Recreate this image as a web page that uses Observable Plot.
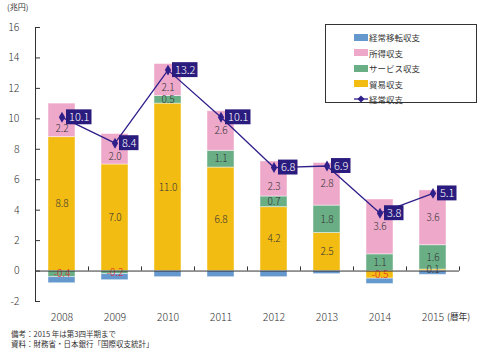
<!DOCTYPE html>
<html><head><meta charset="utf-8">
<script src="https://cdn.jsdelivr.net/npm/d3@7"></script>
<script src="https://cdn.jsdelivr.net/npm/@observablehq/plot@0.6"></script>
<style>
body{margin:0;background:#fff;}
#wrap{position:relative;width:482px;height:351px;font-family:"Noto Sans CJK JP","Noto Sans",sans-serif;color:#333;overflow:hidden;}
#wrap > svg{display:block;position:absolute;left:0;top:0;font-weight:300;}
.abs{position:absolute;white-space:nowrap;line-height:1;}
#legend{position:absolute;left:325px;top:24px;width:152px;height:79px;border:1px solid #333;box-sizing:border-box;background:#fff;}
.li{position:absolute;left:28px;font-size:8.5px;line-height:10px;height:10px;white-space:nowrap;}
.sw{position:absolute;left:0;top:1.5px;width:14px;height:7px;}
.lt{position:absolute;left:15px;top:0;white-space:nowrap;}
</style></head><body><div id="wrap"></div>
<script>
const years = ["2008","2009","2010","2011","2012","2013","2014","2015"];
const seriesNames = ["貿易収支","サービス収支","所得収支","経常移転収支"];
const trade     = [8.8, 7.0, 11.0, 6.8, 4.2, 2.5, -0.5, 0.1];
const services  = [-0.4, -0.2, 0.5, 1.1, 0.7, 1.8, 1.1, 1.6];
const income    = [2.2, 2.0, 2.1, 2.6, 2.3, 2.8, 3.6, 3.6];
const transfers = [-0.4, -0.4, -0.4, -0.4, -0.4, -0.2, -0.35, -0.25];
const current   = [10.1, 8.4, 13.2, 10.1, 6.8, 6.9, 3.8, 5.1];
const yTicks = [-2, 0, 2, 4, 6, 8, 10, 12, 14, 16];
const colors = ["#f2bc12", "#6aae85", "#eea8ca", "#6598cc"];
const lineColor = "#2e1f8a";
const boxColor = "#2a1b7e";

const seriesValues = [trade, services, income, transfers];
const TR = "経常移転収支", INC = "所得収支";
const rows = [];
years.forEach((yr, i) => seriesNames.forEach((s, k) => {
  // does this segment's label collide with the current-account label box?
  let clash = false;
  if (s === INC) {
    const base = Math.max(0, trade[i]) + Math.max(0, services[i]);
    clash = Math.abs(base + income[i] / 2 - current[i]) < 0.8;
  }
  rows.push({year: yr, series: s, value: seriesValues[k][i], clash});
}));
const cur = years.map((yr, i) => ({year: yr, value: current[i], label: current[i].toFixed(1)}));
const cur4 = cur.filter(d => d.label.length >= 4);
const cur3 = cur.filter(d => d.label.length < 4);
const font = '"Noto Sans CJK JP","Noto Sans",sans-serif';

const stackText = (test, extra) => Plot.text(rows, Plot.stackY({
  x: "year", y: "value", z: "series", order: seriesNames,
  text: d => (d.series !== TR && test(d)) ? d.value.toFixed(1) : null, fontSize: 10, ...extra}));

const chart = Plot.plot({
  width: 482, height: 326,
  marginLeft: 35, marginRight: 23, marginTop: 27, marginBottom: 25,
  style: {fontFamily: font, fontSize: "10.5px", color: "#333", background: "transparent"},
  x: {domain: years, paddingInner: 0.5, paddingOuter: 0.25, label: null},
  y: {domain: [-2, 16], label: null},
  color: {domain: seriesNames, range: colors},
  marks: [
    Plot.barY(rows, {x: "year", y: "value", fill: "series", order: seriesNames, stroke: "#fff", strokeOpacity: 0.45, strokeWidth: 1}),
    stackText(d => d.value >= 0 && !d.clash, {fill: "#333"}),
    stackText(d => d.value >= 0 && d.clash, {fill: "#333", dy: 8}),
    stackText(d => d.value < 0, {fill: "#e8182c"}),
    Plot.ruleY([0], {stroke: "#333"}),
    Plot.ruleX(years, {x: d => d, y1: 0, y2: 0.27, dx: 26.5, stroke: "#333"}),
    Plot.ruleX([years[0]], {x: d => d, y1: -2, y2: 16, dx: -26.5, stroke: "#333"}),
    Plot.axisY({ticks: yTicks, tickSize: -5, tickPadding: 21, tickFormat: d => String(d), label: null, fontSize: 10.5, stroke: "#333"}),
    Plot.axisX({tickSize: 0, tickPadding: 12, label: null, fontSize: 10.5}),
    Plot.line(cur, {x: "year", y: "value", stroke: lineColor, strokeWidth: 1.3}),
    Plot.dot(cur, {x: "year", y: "value", symbol: "diamond", r: 3.3, fill: lineColor}),
    Plot.barY(cur4, {x: "year", y1: d => d.value - 0.49, y2: d => d.value + 0.49, dx: 18, insetRight: 1.5, fill: boxColor}),
    Plot.barY(cur3, {x: "year", y1: d => d.value - 0.49, y2: d => d.value + 0.49, dx: 18, insetRight: 7.5, fill: boxColor}),
    Plot.text(cur4, {x: "year", y: "value", text: "label", dx: 17.25, fill: "#fff", fontSize: 11}),
    Plot.text(cur3, {x: "year", y: "value", text: "label", dx: 14.25, fill: "#fff", fontSize: 11})
  ]
});
const wrap = document.getElementById("wrap");
wrap.appendChild(chart);

function addText(txt, left, top, size) {
  const s = document.createElement("div");
  s.className = "abs"; s.textContent = txt;
  s.style.left = left + "px"; s.style.top = top + "px"; s.style.fontSize = size + "px";
  wrap.appendChild(s);
}
addText("(兆円)", 7, 3, 8);
addText("(暦年)", 447, 313, 8.7);
addText("備考：2015 年は第3四半期まで", 11, 330, 7.5);
addText("資料：財務省・日本銀行「国際収支統計」", 11, 340, 7.5);

const legend = document.createElement("div");
legend.id = "legend";
const legendItems = ["経常移転収支", "所得収支", "サービス収支", "貿易収支"];
const legendColors = [colors[3], colors[2], colors[1], colors[0]];
legendItems.forEach((name, i) => {
  const li = document.createElement("div");
  li.className = "li"; li.style.top = (7 + i * 15.6) + "px";
  li.innerHTML = `<div class="sw" style="background:${legendColors[i]}"></div><div class="lt">${name}</div>`;
  legend.appendChild(li);
});
const li = document.createElement("div");
li.className = "li"; li.style.top = (7 + 4 * 15.6) + "px";
li.innerHTML = `<svg width="14" height="10" style="position:absolute;left:0;top:0"><line x1="0" y1="5" x2="14" y2="5" stroke="${lineColor}" stroke-width="1.3"/><path d="M7,1.5L10.5,5L7,8.5L3.5,5Z" fill="${lineColor}"/></svg><div class="lt">経常収支</div>`;
legend.appendChild(li);
wrap.appendChild(legend);
</script>
</body></html>
